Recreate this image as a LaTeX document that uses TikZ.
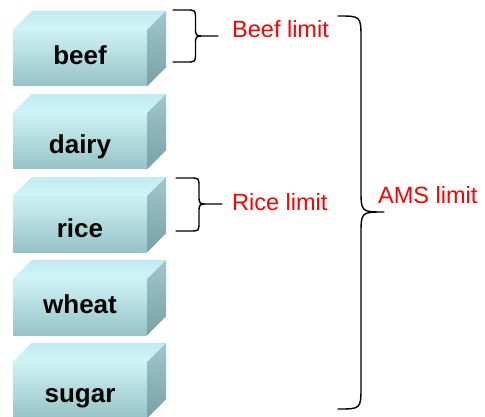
\documentclass[tikz,border=0pt]{standalone}
\usepackage{fontspec}
\setmainfont{Liberation Sans}
\usetikzlibrary{calc}

\definecolor{frontTop}{RGB}{206,242,244}
\definecolor{frontBot}{RGB}{150,195,199}
\definecolor{topFace}{RGB}{208,245,247}
\definecolor{topBack}{RGB}{192,236,240}
\definecolor{sideTop}{RGB}{160,200,204}
\definecolor{sideBot}{RGB}{120,160,165}
\definecolor{limitRed}{RGB}{255,0,0}

\tikzset{
  front/.style={rectangle, minimum width=134pt, minimum height=56pt,
    inner sep=0pt, top color=frontTop, bottom color=frontBot},
  topface/.style={top color=topBack, bottom color=topFace},
  sideface/.style={top color=sideTop, bottom color=sideBot},
  foodlabel/.style={anchor=base, inner sep=0pt,
    font=\bfseries\fontsize{26}{26}\selectfont},
  limitlabel/.style={anchor=base west, inner sep=0pt, text=limitRed,
    font=\fontsize{23.5}{23.5}\selectfont},
  bracket/.style={draw=black, line width=1.4pt, line cap=round, line join=round}
}

% a food block: front face node, top and right faces behind it, label on it
\newcommand\foodblock[4]{% name, centre y, text, baseline offset from bottom
  \node[front] (#1) at (80,#2) {};
  \path[topface] (#1.north west) -- ++(19,-19) -- ($(#1.north east)+(19,-19)$)
     -- (#1.north east) -- cycle;
  \path[sideface] (#1.north east) -- ++(19,-19) -- ($(#1.south east)+(19,-19)$)
     -- (#1.south east) -- cycle;
  \node[foodlabel] (#1-label) at ($(#1.south)+(0,-#4)$) {#3};
}

% right-pointing curly bracket from top end to bottom end, tip, corner radius
\newcommand\limitbrace[4]{%
  \draw[bracket]
    let \p1=(#1), \p2=(#2), \p3=(#3), \n1={(\x1+\x3)/2} in
    (#1) -- ({\n1-#4},\y1)
    .. controls (\n1,\y1) .. (\n1,{\y1-#4})
    -- (\n1,{\y3+#4})
    .. controls (\n1,\y3) .. ({\n1+#4},\y3)
    -- (#3)
    ({\n1+#4},\y3) .. controls (\n1,\y3) .. (\n1,{\y3-#4})
    -- (\n1,{\y2+#4})
    .. controls (\n1,\y2) .. ({\n1-#4},\y2)
    -- (#2);
}

\begin{document}
\begin{tikzpicture}[x=1pt,y=-1pt]
\useasboundingbox (0,0) rectangle (485,417);

\foodblock{beef}{58}{beef}{22}
\foodblock{dairy}{141}{dairy}{16}
\foodblock{rice}{224}{rice}{15}
\foodblock{wheat}{307}{wheat}{22}
\foodblock{sugar}{390}{sugar}{16}

% bracket end points
\coordinate (beefTop) at (173,10);
\coordinate (beefBot) at (173,62);
\coordinate (beefTip) at (218,36);
\coordinate (riceTop) at (176,178);
\coordinate (riceBot) at (176,231);
\coordinate (riceTip) at (222,204);
\coordinate (amsTop) at (338,16);
\coordinate (amsBot) at (338,409);
\coordinate (amsTip) at (384,212);

\limitbrace{beefTop}{beefBot}{beefTip}{9}
\limitbrace{riceTop}{riceBot}{riceTip}{9}
\limitbrace{amsTop}{amsBot}{amsTip}{23}

\node[limitlabel] (beefLimit) at (232,38) {Beef limit};
\node[limitlabel] (riceLimit) at (232,211) {Rice limit};
\node[limitlabel] (amsLimit) at (378,204) {AMS limit};
\end{tikzpicture}
\end{document}
